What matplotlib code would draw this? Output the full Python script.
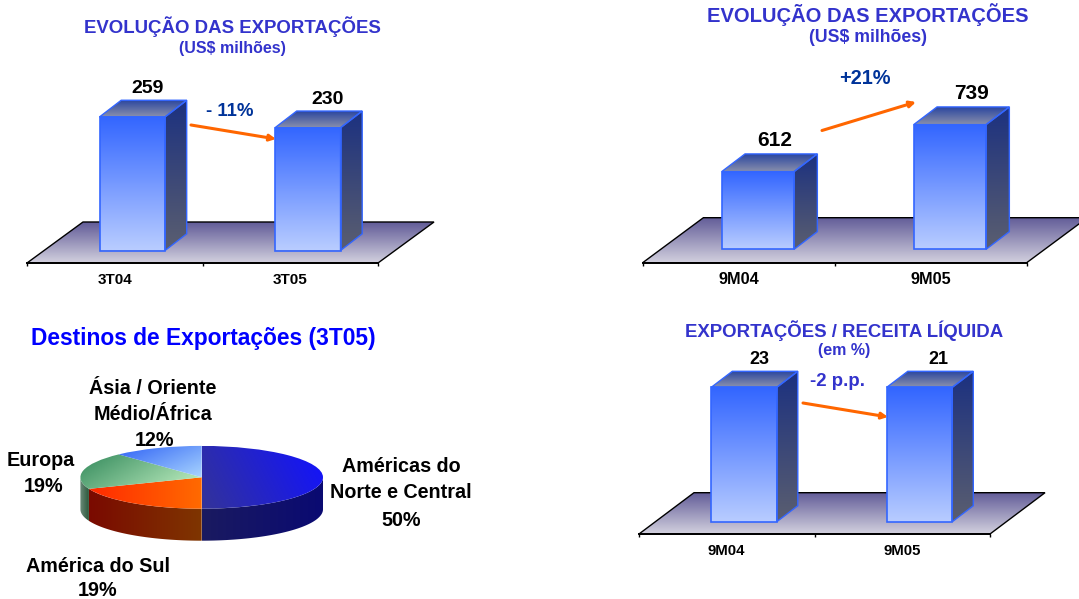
import numpy as np
import matplotlib
matplotlib.use("Agg")
import matplotlib.pyplot as plt
from matplotlib.colors import LinearSegmentedColormap
from matplotlib.patches import Polygon, FancyArrowPatch

plt.rcParams['font.family'] = ['Liberation Sans', 'DejaVu Sans']
plt.rcParams['font.weight'] = 'bold'

W, H = 1079, 599

# data
quarter_cats = ["3T04", "3T05"]
quarter_values = [259, 230]
ytd_cats = ["9M04", "9M05"]
ytd_values = [612, 739]
ratio_cats = ["9M04", "9M05"]
ratio_labels = ["23", "21"]
ratio_heights = [21, 21]  # both columns are drawn the same height in the original
pie_names = ["Américas do\nNorte e Central", "América do Sul", "Europa", "Ásia / Oriente\nMédio/África"]
pie_values = [50, 19, 19, 12]

TITLE = "#3333CC"
DELTA = "#003399"
ORANGE = "#FF6600"
EDGE = "#3366FF"

fig = plt.figure(figsize=(W / 100, H / 100), dpi=100)


def txt(x, y, s, size, color="black", **kw):
    fig.text(x / W, 1 - y / H, s, fontsize=size, color=color, ha="center", va="center", **kw)


def arrow(x1, y1, x2, y2):
    fig.add_artist(FancyArrowPatch((x1 / W, 1 - y1 / H), (x2 / W, 1 - y2 / H), transform=fig.transFigure,
                                   arrowstyle="-|>", mutation_scale=9, lw=2.2, color=ORANGE,
                                   shrinkA=0, shrinkB=0))


def grad(ax, patch, extent, c1, c2, angle=-90, z=2):
    # linear gradient clipped to a patch, c1 at the start of the direction, c2 at the end
    xx, yy = np.meshgrid(np.linspace(0, 1, 64), np.linspace(0, 1, 64))
    a = np.deg2rad(angle)
    g = xx * np.cos(a) + yy * np.sin(a)
    g = (g - g.min()) / (g.max() - g.min())
    cmap = LinearSegmentedColormap.from_list("g", [c1, c2])
    im = ax.imshow(g, cmap=cmap, extent=extent, origin="lower", aspect="auto", zorder=z, interpolation="bilinear")
    im.set_clip_path(patch)
    im.set_clip_box(fig.bbox)


def bar_panel(cats, heights, labels, x0, x1, yfront, yback, floor_dx, base, scale, ybase, bar_w, bar_off,
              dx, dy, label_dx, label_dy, label_size, tick_size, tick_pad):
    top_px = 200
    ax = fig.add_axes([x0 / W, 1 - yfront / H, (x1 - x0) / W, top_px / H])
    ax.patch.set_visible(False)
    y0 = base - (yfront - ybase) / scale
    y1 = y0 + top_px / scale
    px_x = 2 / (x1 - x0)  # one pixel in category units
    px_y = 1 / scale

    # floor
    floor = Polygon([(-0.5, y0), (1.5, y0), (1.5 + floor_dx * px_x, y0 + (yfront - yback) * px_y),
                     (-0.5 + floor_dx * px_x, y0 + (yfront - yback) * px_y)],
                    closed=True, fc="none", ec="black", lw=1, zorder=3, clip_on=False)
    ax.add_patch(floor)
    grad(ax, floor, [-0.5, 1.5 + floor_dx * px_x, y0, y0 + (yfront - yback) * px_y], "#D2D0DE", "#625C98", 90, 1)

    xs = np.arange(len(heights)) + bar_off * px_x
    w = bar_w * px_x
    bars = ax.bar(xs, np.array(heights) - base, w, bottom=base, fc="none", ec=EDGE, lw=1.2, zorder=6)
    for i, b in enumerate(bars):
        left, right, v = xs[i] - w / 2, xs[i] + w / 2, heights[i]
        ddx, ddy = dx * px_x, dy * px_y
        side = Polygon([(right, base), (right + ddx, base + ddy), (right + ddx, v + ddy), (right, v)],
                       closed=True, fc="none", ec=EDGE, lw=1, zorder=5, clip_on=False)
        top = Polygon([(left, v), (right, v), (right + ddx, v + ddy), (left + ddx, v + ddy)],
                      closed=True, fc="none", ec=EDGE, lw=1, zorder=5, clip_on=False)
        ax.add_patch(side)
        ax.add_patch(top)
        grad(ax, b, [left, right, base, v], "#B8CCFF", "#3366FF", 90, 4)
        grad(ax, side, [right, right + ddx, base, v + ddy], "#5A5E70", "#1C3180", 90, 4)
        grad(ax, top, [left, right + ddx, v, v + ddy], "#8A90AC", "#2C479F", 90, 4)
        ax.annotate(labels[i], xy=(xs[i], v), xytext=(label_dx[i], -label_dy), textcoords="offset pixels",
                    ha="center", va="center", fontsize=label_size, color="black", zorder=8)

    ax.set_xlim(-0.5, 1.5)
    ax.set_ylim(y0, y1)
    for s in ["top", "left", "right"]:
        ax.spines[s].set_visible(False)
    ax.spines["bottom"].set_linewidth(1.4)
    ax.spines["bottom"].set_zorder(7)
    ax.set_yticks([])
    ax.set_xticks([-0.5, 0.5, 1.5])
    ax.set_xticklabels([])
    ax.set_xticks([0, 1], minor=True)
    ax.set_xticklabels(cats, minor=True, fontsize=tick_size, fontweight="bold")
    ax.tick_params(axis="x", which="major", length=2.5, width=1)
    ax.tick_params(axis="x", which="minor", length=0, pad=tick_pad)


# top left
txt(232.7, 27, "EVOLUÇÃO DAS EXPORTAÇÕES", 13.4, TITLE)
txt(232.7, 48, "(US$ milhões)", 11.5, TITLE)
bar_panel(quarter_cats, quarter_values, [str(v) for v in quarter_values], 27, 378, 263, 222, 56,
          -100, 0.372, 250.5, 65.5, 17.5, 21.7, 16.7, [15.7, 20], -28.5, 14, 11, 7)
txt(230, 111, "- 11%", 13.4, DELTA)
arrow(191, 125, 276, 139)

# top right
txt(868, 15, "EVOLUÇÃO DAS EXPORTAÇÕES", 14.5, TITLE)
txt(868, 38, "(US$ milhões)", 12.7, TITLE)
bar_panel(ytd_cats, ytd_values, [str(v) for v in ytd_values], 642.7, 1026.7, 262.7, 217.7, 60.7,
          402, 0.37, 249.3, 72.3, 19.2, 23.3, 17.7, [17, 22], -31, 15, 11.7, 7)
txt(865, 79, "+21%", 14.4, DELTA)
arrow(822, 130.5, 916, 102)

# bottom right
txt(844, 331, "EXPORTAÇÕES / RECEITA LÍQUIDA", 13.4, TITLE)
txt(844, 351, "(em %)", 11.5, TITLE)
bar_panel(ratio_cats, ratio_heights, ratio_labels, 639, 990, 534, 492.7, 55,
          0, 6.4, 521.7, 65.5, 17.3, 21, 16, [15, 19], -28, 13, 10.8, 7)
txt(838, 381, "-2 p.p.", 13.4, TITLE)
arrow(803, 403, 888, 417)

# pie, bottom left
txt(203, 339, "Destinos de Exportações (3T05)", 16.4, "#0000FF")
cx, cy, rx, ry, depth = 201.7, 477.3, 121.3, 31.4, 32
dd = depth / ry
ax = fig.add_axes([(cx - rx) / W, 1 - (cy + ry + depth) / H, 2 * rx / W, (2 * ry + depth) / H], zorder=5)
wedges, _ = ax.pie(pie_values, startangle=90, counterclock=False, radius=1)
ax.set_aspect("auto")

top_cols = [("#333399", "#1212FF", 15), ("#FF2A00", "#FF6A00", 0), ("#348A5C", "#C4F2C4", -25), ("#2F62F5", "#A8D4FF", -40)]
side_cols = [("#1A1A60", "#0A0A72"), ("#7A0A00", "#7F3500"), ("#6C8C7A", "#2C583C")]
edges = np.cumsum([0] + pie_values) / sum(pie_values) * 2 * np.pi
for i in range(3):
    a0 = max(edges[i], np.pi / 2)
    a1 = min(edges[i + 1], 3 * np.pi / 2)
    t = np.linspace(a0, a1, 80)
    xs, ys = np.sin(t), np.cos(t)
    side = Polygon(np.r_[np.c_[xs, ys], np.c_[xs[::-1], ys[::-1] - dd]], closed=True, fc="none", ec="none", zorder=1)
    ax.add_patch(side)
    c1, c2 = side_cols[i]
    ext = [xs.min(), xs.max(), -1 - dd, 0]
    grad(ax, side, ext, c1, c2, 0, 1)
for i, (w, (c1, c2, a)) in enumerate(zip(wedges, top_cols)):
    w.set_facecolor("none")
    w.set_zorder(3)
    # each gradient spans its own slice
    t = np.linspace(edges[i], edges[i + 1], 80)
    xs, ys = np.r_[np.sin(t), 0], np.r_[np.cos(t), 0]
    grad(ax, w, [xs.min(), xs.max(), ys.min(), ys.max()], c1, c2, a, 2)
ax.set_xlim(-1, 1)
ax.set_ylim(-1 - dd, 1)

txt(401, 467, pie_names[0].split("\n")[0], 14.2)
txt(401, 493, pie_names[0].split("\n")[1], 14.2)
txt(401, 520, f"{pie_values[0]}%", 14.2)
txt(98, 567, pie_names[1], 14.2)
txt(98, 591, f"{pie_values[1]}%", 14.2)
txt(41, 460, pie_names[2], 14.2)
txt(44, 487, f"{pie_values[2]}%", 14.2)
txt(153, 388, pie_names[3].split("\n")[0], 14.2)
txt(153, 414, pie_names[3].split("\n")[1], 14.2)
txt(155, 441, f"{pie_values[3]}%", 14.2)

fig.savefig("out.png", dpi=100)
